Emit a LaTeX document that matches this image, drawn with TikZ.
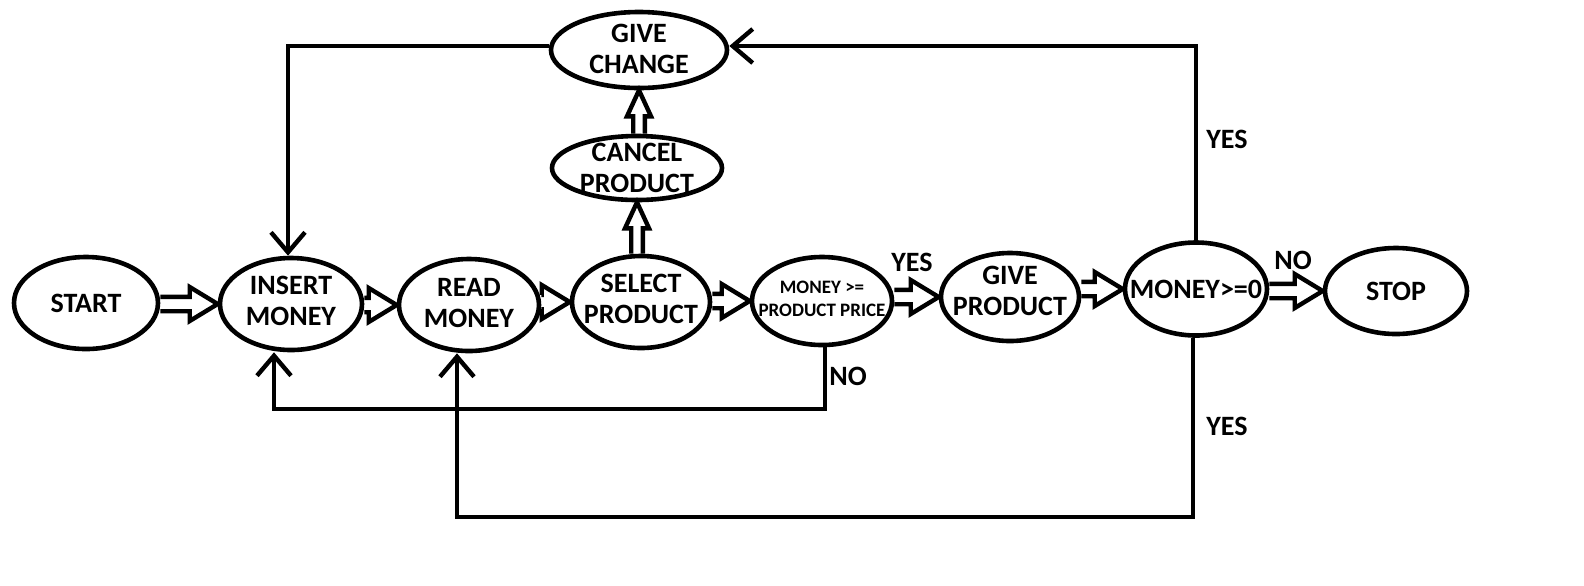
\documentclass[tikz,border=0pt]{standalone}
\usepackage{fontspec}
\setmainfont{Carlito}
\usetikzlibrary{shapes.geometric,arrows.meta,calc}
\tikzset{
  ell/.style={ellipse, draw, line width=2.3pt, inner sep=0pt},
  txt/.style={align=center, inner sep=0pt, font=\bfseries\fontsize{14}{15.5}\selectfont},
  smalltxt/.style={align=center, inner sep=0pt, font=\bfseries\fontsize{9.5}{11.5}\selectfont},
  barrow/.style={draw, line width=2.2pt, line join=miter},
  conn/.style={draw, line width=2.2pt},
  tip/.style={-{Straight Barb[length=10pt,width=17pt]}},
}
\newcommand{\harrow}[2]{%
  \draw[barrow] let \p1=(#1), \p2=(#2) in
    (\x1,\y2+3.6pt) -- (\x2-14pt,\y2+3.6pt) -- (\x2-14pt,\y2+8.5pt) -- (\x2,\y2)
    -- (\x2-14pt,\y2-8.5pt) -- (\x2-14pt,\y2-3.6pt) -- (\x1,\y2-3.6pt);}
\newcommand{\varrow}[2]{%
  \draw[barrow] let \p1=(#1), \p2=(#2) in
    (\x2-2.9pt,\y1) -- (\x2-2.9pt,\y2-13pt) -- (\x2-6pt,\y2-13pt) -- (\x2,\y2)
    -- (\x2+6pt,\y2-13pt) -- (\x2+2.9pt,\y2-13pt) -- (\x2+2.9pt,\y1);}
\begin{document}
\begin{tikzpicture}[x=0.5pt,y=-0.5pt]
\fill[white] (0,0) rectangle (1584,585);
\useasboundingbox (0,0) rectangle (1584,585);

% ellipses
\node[ell, minimum width=72pt, minimum height=46pt] (st) at (86,303) {};
\node[ell, minimum width=71pt, minimum height=46pt] (im) at (291,304) {};
\node[ell, minimum width=70pt, minimum height=46pt] (rm) at (469,305) {};
\node[ell, minimum width=69pt, minimum height=46pt] (sp) at (641,302) {};
\node[ell, minimum width=70pt, minimum height=44pt] (mpp) at (822,301) {};
\node[ell, minimum width=69pt, minimum height=44pt] (gp) at (1010,297) {};
\node[ell, minimum width=71pt, minimum height=46.5pt] (mz) at (1196,289) {};
\node[ell, minimum width=71pt, minimum height=43pt] (stop) at (1396,291) {};
\node[ell, minimum width=88pt, minimum height=38pt] (gc) at (639,50) {};
\node[ell, minimum width=85pt, minimum height=32pt] (cp) at (637,168) {};

% texts
\node[txt] (t-st) at (st) {START};
\node[txt] (t-im) at ([yshift=1.5pt]im.center) {INSERT\\MONEY};
\node[txt] (t-rm) at ([yshift=1pt]rm.center) {READ\\MONEY};
\node[txt] (t-sp) at ([yshift=1.5pt]sp.center) {SELECT\\PRODUCT};
\node[smalltxt] (t-mpp) at ([yshift=1pt]mpp.center) {MONEY >=\\PRODUCT PRICE};
\node[txt] (t-gp) at ([yshift=3pt]gp.center) {GIVE\\PRODUCT};
\node[txt] (t-mz) at (mz) {MONEY>=0};
\node[txt] (t-stop) at (stop) {STOP};
\node[txt] (t-gc) at ([yshift=0.5pt]gc.center) {GIVE\\CHANGE};
\node[txt] (t-cp) at (cp) {CANCEL\\PRODUCT};

% block arrows
\harrow{st.east}{im.west}
\harrow{im.east}{rm.west}
\harrow{rm.east}{sp.west}
\harrow{sp.east}{mpp.west}
\harrow{mpp.east}{gp.west}
\harrow{gp.east}{mz.west}
\harrow{mz.east}{stop.west}
\varrow{sp.north}{cp.south}
\varrow{cp.north}{gc.south}

% connectors
\coordinate (noy) at (0,409);
\coordinate (boty) at (0,517);
\draw[conn, tip] ([yshift=2pt]gc.west) -| ([xshift=-1.5pt]im.north);
\draw[conn, tip] (mz.north) |- ([yshift=2pt]gc.east);
\draw[conn, tip] ([xshift=1.5pt]mpp.south) -- ([xshift=1.5pt]mpp.south |- noy) -| ([xshift=-8.5pt]im.south);
\draw[conn, tip] ([xshift=-1.5pt]mz.south) -- ([xshift=-1.5pt]mz.south |- boty) -| ([xshift=-6pt]rm.south);

% labels
\node[txt, anchor=west] (l-yes1) at (1206,139) {YES};
\node[txt, anchor=west] (l-yes2) at (1206,426) {YES};
\node[txt] (l-no1) at (1293,260) {NO};
\node[txt] (l-yes3) at (912,262) {YES};
\node[txt] (l-no2) at (848,376) {NO};
\end{tikzpicture}
\end{document}
